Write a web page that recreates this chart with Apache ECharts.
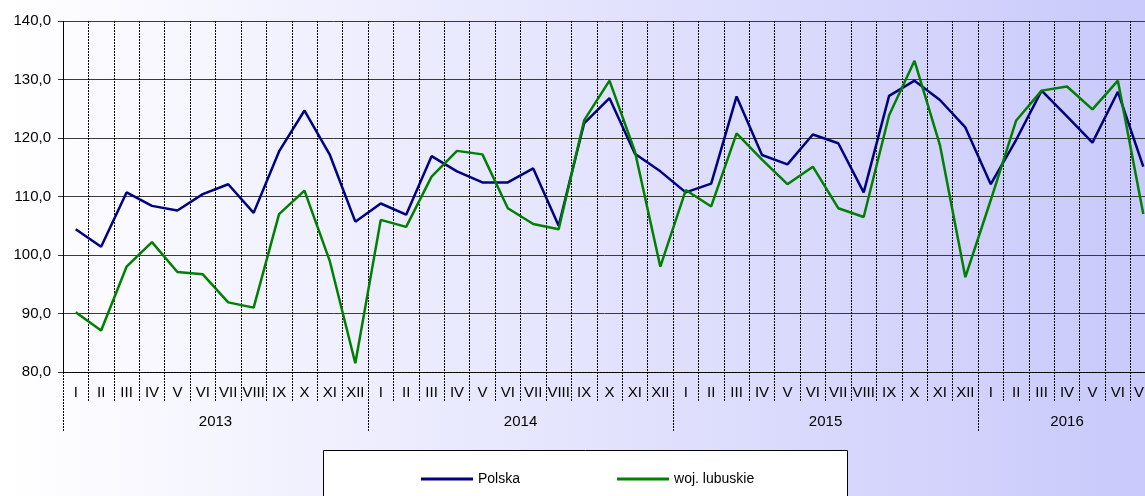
<!DOCTYPE html>
<html>
<head>
<meta charset="utf-8">
<script src="https://cdn.jsdelivr.net/npm/echarts@6/dist/echarts.min.js"></script>
<style>
html, body { margin: 0; padding: 0; }
#chart { width: 1145px; height: 496px; }
</style>
</head>
<body>
<div id="chart"></div>
<script>
// miesiace (2013 I - 2016 VII)
var romanMonths = ["I","II","III","IV","V","VI","VII","VIII","IX","X","XI","XII"];
var months = [].concat(romanMonths, romanMonths, romanMonths, romanMonths.slice(0, 7));
var years = ["2013", "2014", "2015", "2016"];
var yearCenters = [6, 18, 30, 39.5];
var yearBounds = [0, 12, 24, 36];

var polska = [
	104.4, 101.4, 110.7, 108.4, 107.6, 110.4, 112.1, 107.2, 117.7, 124.7, 117.1, 105.7,
	108.8, 106.9, 116.9, 114.3, 112.4, 112.4, 114.8, 105.0, 122.5, 126.8, 117.3, 114.3,
	110.7, 112.2, 127.1, 117.1, 115.5, 120.6, 119.1, 110.7, 127.2, 129.8, 126.5, 121.8,
	112.1, 119.7, 128.1, 123.7, 119.2, 127.9, 115.1
];
var lubuskie = [
	90.2, 87.1, 98.0, 102.2, 97.1, 96.7, 91.9, 91.0, 107.0, 111.0, 98.9, 81.5,
	106.0, 104.8, 113.4, 117.8, 117.2, 108.0, 105.3, 104.4, 123.0, 129.8, 117.7, 98.0,
	111.1, 108.3, 120.8, 116.3, 112.1, 115.1, 108.0, 106.5, 123.9, 133.2, 118.8, 96.2,
	109.4, 123.0, 128.1, 128.8, 124.9, 129.8, 107.0
];

var font = "'Liberation Sans', Arial, sans-serif";
var dotted = { color: "#000", width: 1, type: [2, 1] };

var chart = echarts.init(document.getElementById("chart"));
var option = {
	backgroundColor: new echarts.graphic.LinearGradient(0, 0, 1, 0, [
		{ offset: 0, color: "#ffffff" },
		{ offset: 1, color: "#c9c9fb" }
	]),
	animation: false,
	// wykres wychodzi poza prawa krawedz (VII 2016 uciete)
	grid: { left: 63, width: 1093, top: 21, bottom: 124, outerBoundsMode: "none" },
	graphic: [{
		type: "rect",
		shape: { x: 323.5, y: 450.5, width: 524, height: 60 },
		style: { fill: "#fff", stroke: "#000", lineWidth: 1 },
		z: 0
	}],
	legend: {
		left: 416,
		top: 467,
		icon: "rect",
		itemWidth: 52,
		itemHeight: 3,
		itemGap: 97,
		textStyle: { fontFamily: font, fontSize: 14, color: "#000" },
		data: ["Polska", "woj. lubuskie"]
	},
	xAxis: [{
		type: "category",
		data: months,
		boundaryGap: true,
		axisLine: { show: true, lineStyle: dotted },
		axisTick: { show: true, interval: 0, length: 30, lineStyle: dotted },
		axisLabel: { interval: 0, margin: 13, fontFamily: font, fontSize: 15, color: "#000", hideOverlap: false },
		splitLine: { show: true, interval: 0, lineStyle: dotted }
	}, {
		type: "value",
		min: 0,
		max: 43,
		position: "bottom",
		axisLine: { show: false },
		axisTick: { show: true, customValues: yearBounds, length: 59, lineStyle: dotted },
		axisLabel: {
			customValues: yearCenters,
			margin: 42,
			fontFamily: font, fontSize: 15, color: "#000",
			formatter: function (v) {
				return years[yearCenters.indexOf(v)] || "";
			}
		},
		splitLine: { show: false }
	}],
	yAxis: {
		type: "value",
		min: 80,
		max: 140,
		interval: 10,
		axisLine: { show: true, lineStyle: dotted },
		axisTick: { show: true, length: 5, lineStyle: { color: "#333", width: 1 } },
		axisLabel: {
			margin: 12,
			fontFamily: font, fontSize: 15, color: "#000",
			formatter: function (v) { return v.toFixed(1).replace(".", ","); }
		},
		splitLine: { show: true, lineStyle: { color: "#3a3a3a", width: 1 } }
	},
	series: [{
		name: "Polska",
		type: "line",
		data: polska,
		symbol: "none",
		lineStyle: { color: "#000080", width: 2.5 },
		itemStyle: { color: "#000080" }
	}, {
		name: "woj. lubuskie",
		type: "line",
		data: lubuskie,
		symbol: "none",
		lineStyle: { color: "#008000", width: 2.5 },
		itemStyle: { color: "#008000" }
	}]
};
chart.setOption(option);
</script>
</body>
</html>
